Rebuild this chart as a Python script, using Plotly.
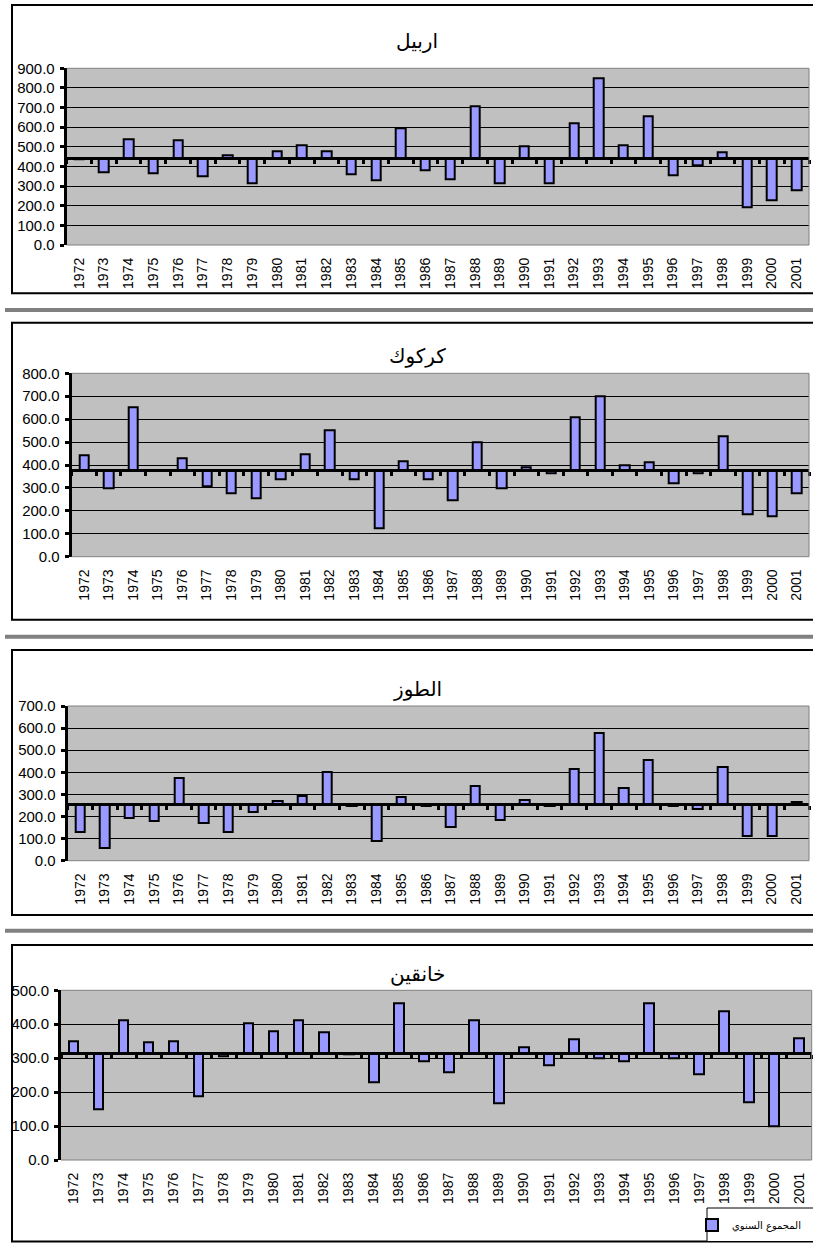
import plotly.graph_objects as go

# Annual rainfall totals (mm) per station, 1972-2001
years = ["1972", "1973", "1974", "1975", "1976", "1977", "1978", "1979", "1980", "1981",
         "1982", "1983", "1984", "1985", "1986", "1987", "1988", "1989", "1990", "1991",
         "1992", "1993", "1994", "1995", "1996", "1997", "1998", "1999", "2000", "2001"]

erbil = [438, 368, 540, 365, 531, 351, 458, 314, 479, 508,
         479, 362, 329, 592, 380, 336, 708, 316, 504, 316,
         620, 851, 509, 657, 355, 407, 472, 190, 226, 278]

kirkuk = [441, 298, 653, 378, 428, 305, 275, 253, 337, 447,
          550, 337, 125, 415, 337, 247, 499, 300, 388, 364,
          609, 698, 397, 410, 320, 364, 527, 183, 176, 275]

tuz = [130, 57, 193, 178, 373, 172, 128, 222, 268, 294,
       400, 248, 89, 290, 248, 154, 338, 183, 275, 248,
       415, 578, 329, 457, 248, 234, 424, 113, 113, 266]

khanaqin = [351, 148, 411, 346, 351, 188, 305, 402, 380, 411,
            376, 310, 230, 462, 290, 259, 412, 166, 331, 278,
            357, 300, 290, 463, 300, 252, 438, 170, 100, 360]

stations = ["اربيل", "كركوك", "الطوز", "خانقين"]
series = [erbil, kirkuk, tuz, khanaqin]
y_max = [900, 800, 700, 500]
legend_name = "المجموع السنوي"

W, H = 813, 1246


def fx(p):
    return p / W


def fy(p):
    return 1 - p / H


# Pixel geometry of each chart block: plot area (left, right, top, bottom),
# outer frame (top, bottom) and title centre line.
geom = [
    dict(plot=(66.7, 809.0, 68.3, 245.0), frame=(5.0, 293.3), title_y=41),
    dict(plot=(71.7, 809.0, 373.3, 556.7), frame=(322.7, 619.7), title_y=356),
    dict(plot=(67.7, 809.0, 706.0, 860.7), frame=(650.0, 915.0), title_y=689),
    dict(plot=(61.0, 811.7, 990.3, 1160.0), frame=(945.0, 1241.5), title_y=974),
]
separators = [310.0, 636.8, 930.8]

X_FONT = dict(family="Liberation Sans, Arial, sans-serif", size=14, color="black")
Y_FONT = dict(family="Liberation Sans, Arial, sans-serif", size=15, color="black")
AR_FONT = "DejaVu Sans, sans-serif"
BAR_FILL = "#9999FF"
PLOT_BG = "#C0C0C0"

fig = go.Figure()
layout = dict(
    width=W, height=H,
    margin=dict(l=0, r=0, t=0, b=0, autoexpand=False),
    paper_bgcolor="white",
    plot_bgcolor=PLOT_BG,
    bargap=0,
    shapes=[], annotations=[],
)

n = len(years)
for k, (name, vals, ymax, g) in enumerate(zip(stations, series, y_max, geom)):
    mean = sum(vals) / len(vals)
    left, right, top, bottom = g["plot"]
    xd = [fx(left), fx(right)]
    yd = [fy(bottom), fy(top)]

    xid, xid2, yid = f"x{2 * k + 1}", f"x{2 * k + 2}", f"y{k + 1}"
    xkey = "xaxis" if k == 0 else f"xaxis{2 * k + 1}"
    xkey2 = f"xaxis{2 * k + 2}"
    ykey = "yaxis" if k == 0 else f"yaxis{k + 1}"
    xref = "x" if k == 0 else xid
    yref = "y" if k == 0 else yid

    # Bars hang from the long-term mean
    fig.add_trace(go.Bar(
        x=years, y=[v - mean for v in vals], base=mean,
        width=0.38, name=legend_name, showlegend=(k == len(stations) - 1),
        marker=dict(color=BAR_FILL, line=dict(color="black", width=2)),
        xaxis=xref, yaxis=yref,
        customdata=vals, hovertemplate="%{x}: %{customdata:.1f}<extra></extra>",
    ))
    # Empty trace that attaches the category-boundary axis to this panel
    fig.add_trace(go.Scatter(x=[], y=[], xaxis=xid2, yaxis=yref,
                             showlegend=False, hoverinfo="skip"))

    layout[xkey] = dict(
        domain=xd, anchor=yref, type="category",
        categoryorder="array", categoryarray=years, range=[-0.5, n - 0.5],
        tickangle=-90, tickfont=X_FONT, ticks="", showline=False,
        showgrid=False, zeroline=False, ticklabelstandoff=9, fixedrange=True,
    )
    # Category axis crossing the value axis at the mean
    layout[xkey2] = dict(
        domain=xd, overlaying=xref, anchor="free",
        position=yd[0] + (yd[1] - yd[0]) * mean / ymax,
        type="linear", range=[-0.5, n - 0.5], tick0=-0.5, dtick=1,
        ticks="outside", ticklen=4, tickwidth=3, tickcolor="black",
        showline=True, linewidth=3, linecolor="black",
        showticklabels=False, showgrid=False, zeroline=False, fixedrange=True,
    )
    layout[ykey] = dict(
        domain=yd, anchor=xref, range=[0, ymax], dtick=100, tickformat=".1f",
        tickfont=Y_FONT, showgrid=True, gridcolor="black", gridwidth=1,
        zeroline=False, showline=True, linewidth=3, linecolor="black",
        ticks="outside", ticklen=4, tickwidth=3, tickcolor="black",
        ticklabelstandoff=2, fixedrange=True,
    )

    # Grey plot-area border (top, right, bottom)
    layout["shapes"].append(dict(
        type="path", xref=f"{xref} domain", yref=f"{yref} domain",
        path="M 0 1 L 1 1 L 1 0 L 0 0", line=dict(color="#808080", width=1),
        layer="above",
    ))
    # Chart frame
    ftop, fbot = g["frame"]
    layout["shapes"].append(dict(
        type="rect", xref="paper", yref="paper",
        x0=fx(12), x1=fx(W + 10), y0=fy(fbot), y1=fy(ftop),
        line=dict(color="black", width=2), fillcolor="rgba(0,0,0,0)",
    ))
    layout["annotations"].append(dict(
        text=name, xref="paper", yref="paper", x=fx(417), y=fy(g["title_y"]),
        xanchor="center", yanchor="middle", showarrow=False,
        font=dict(family=AR_FONT, size=20, color="black"),
    ))

# Grey rules between the chart blocks
for s in separators:
    layout["shapes"].append(dict(
        type="line", xref="paper", yref="paper",
        x0=fx(5), x1=1, y0=fy(s), y1=fy(s),
        line=dict(color="#808080", width=4),
    ))

# Legend box
layout["shapes"].append(dict(
    type="rect", xref="paper", yref="paper",
    x0=fx(707), x1=fx(W + 10), y0=fy(1241.5), y1=fy(1208),
    line=dict(color="black", width=1), fillcolor="white",
))
layout["legend"] = dict(
    x=fx(692), xanchor="left", y=fy(1225), yanchor="middle",
    bgcolor="rgba(0,0,0,0)", borderwidth=0,
    font=dict(family=AR_FONT, size=10, color="black"),
)

fig.update_layout(**layout)
fig.write_html("out.html")
